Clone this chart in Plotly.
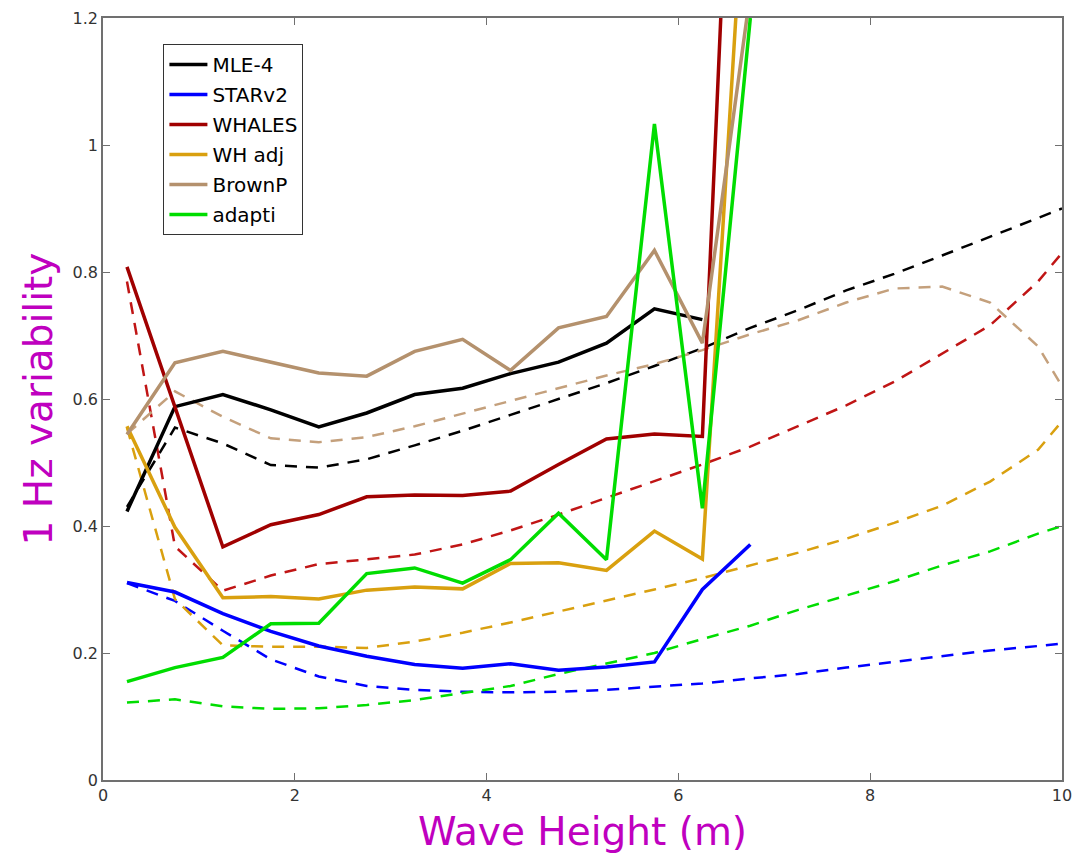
import plotly.graph_objects as go

# bin centres (m) for the solid curves
x_bins = [0.25, 0.75, 1.25, 1.75, 2.25, 2.75, 3.25, 3.75, 4.25, 4.75, 5.25, 5.75, 6.25, 6.75]

mle4 = [0.423, 0.588, 0.607, 0.583, 0.556, 0.578, 0.607, 0.617, 0.640, 0.658, 0.688, 0.742, 0.725]
starv2 = [0.311, 0.296, 0.262, 0.234, 0.211, 0.195, 0.182, 0.176, 0.183, 0.173, 0.178, 0.186, 0.300, 0.371]
whales = [0.808, 0.587, 0.367, 0.402, 0.418, 0.446, 0.449, 0.448, 0.455, 0.497, 0.537, 0.545, 0.541, 2.26]
wh_adj = [0.557, 0.398, 0.287, 0.289, 0.285, 0.299, 0.304, 0.301, 0.341, 0.342, 0.330, 0.392, 0.348, 1.57]
brownp = [0.544, 0.657, 0.675, 0.658, 0.641, 0.636, 0.675, 0.694, 0.645, 0.712, 0.730, 0.834, 0.688, 1.24]
adapti = [0.155, 0.177, 0.193, 0.246, 0.247, 0.325, 0.334, 0.310, 0.347, 0.420, 0.347, 1.033, 0.428, 1.20]

# grid for the dashed (model) curves
x_model = [0.25, 0.75, 1.25, 1.75, 2.25, 2.75, 3.25, 3.75, 4.25, 4.75, 5.25, 5.75, 6.25,
           6.75, 7.25, 7.75, 8.25, 8.75, 9.25, 9.75, 10.0]

mle4_m = [0.430, 0.555, 0.530, 0.496, 0.492, 0.505, 0.527, 0.550, 0.575, 0.600, 0.625, 0.652, 0.680,
          0.712, 0.740, 0.771, 0.797, 0.826, 0.855, 0.885, 0.900]
starv2_m = [0.310, 0.282, 0.235, 0.190, 0.163, 0.148, 0.142, 0.139, 0.138, 0.139, 0.142, 0.147, 0.152,
            0.160, 0.167, 0.177, 0.186, 0.194, 0.204, 0.211, 0.215]
whales_m = [0.785, 0.368, 0.298, 0.322, 0.340, 0.347, 0.355, 0.371, 0.393, 0.418, 0.444, 0.470, 0.497,
            0.525, 0.558, 0.590, 0.627, 0.672, 0.716, 0.785, 0.830]
wh_adj_m = [0.555, 0.285, 0.212, 0.210, 0.210, 0.208, 0.218, 0.232, 0.248, 0.265, 0.282, 0.300, 0.318,
            0.338, 0.358, 0.380, 0.405, 0.432, 0.470, 0.520, 0.565]
brownp_m = [0.545, 0.612, 0.572, 0.538, 0.532, 0.540, 0.557, 0.577, 0.598, 0.618, 0.637, 0.655, 0.677,
            0.702, 0.724, 0.752, 0.774, 0.777, 0.752, 0.683, 0.620]
adapti_m = [0.122, 0.127, 0.116, 0.112, 0.113, 0.118, 0.126, 0.137, 0.148, 0.167, 0.183, 0.200, 0.222,
            0.243, 0.268, 0.290, 0.313, 0.338, 0.360, 0.388, 0.400]

names = ["MLE-4", "STARv2", "WHALES", "WH adj", "BrownP", "adapti"]
colors = ["#000000", "#0000ff", "#a00000", "#d9a00f", "#b4916d", "#00dd00"]
dash_colors = ["#000000", "#0000ff", "#c01515", "#d9a00f", "#c4a07c", "#00dd00"]
solid = [mle4, starv2, whales, wh_adj, brownp, adapti]
model = [mle4_m, starv2_m, whales_m, wh_adj_m, brownp_m, adapti_m]

fig = go.Figure()
for name, col, dcol, ys, ym in zip(names, colors, dash_colors, solid, model):
    fig.add_trace(go.Scatter(x=x_model, y=ym, mode="lines", showlegend=False,
                             line=dict(color=dcol, width=2.5, dash="12px,9px"),
                             legendgroup=name))
for name, col, ys in zip(names, colors, solid):
    fig.add_trace(go.Scatter(x=x_bins[:len(ys)], y=ys, mode="lines", name=name,
                             line=dict(color=col, width=3.5), legendgroup=name))

axis_common = dict(showline=True, linecolor="#707070", linewidth=1.5, mirror="ticks",
                   ticks="inside", ticklen=7, tickcolor="#707070", tickwidth=1,
                   showgrid=False, zeroline=False,
                   tickfont=dict(family="DejaVu Sans", size=16, color="#333333"))

fig.update_layout(
    width=1076, height=861,
    margin=dict(l=103, r=14, t=18, b=81),
    plot_bgcolor="white", paper_bgcolor="white",
    font=dict(family="DejaVu Sans"),
    xaxis=dict(range=[0, 10], tickvals=[0, 2, 4, 6, 8, 10], automargin=False,
               title=dict(text="Wave Height (m)", standoff=14,
                          font=dict(family="DejaVu Sans", size=39, color="#bf00bf")),
               **axis_common),
    yaxis=dict(range=[0, 1.2], tickvals=[0, 0.2, 0.4, 0.6, 0.8, 1.0, 1.2], automargin=False,
               title=dict(text="1 Hz variability", standoff=8,
                          font=dict(family="DejaVu Sans", size=39, color="#bf00bf")),
               **axis_common),
    legend=dict(x=0.063, y=0.966, xanchor="left", yanchor="top",
                bgcolor="white", bordercolor="#333333", borderwidth=1,
                font=dict(family="DejaVu Sans", size=20, color="#000000"),
                traceorder="grouped", tracegroupgap=1, itemwidth=38),
)

fig.write_html("out.html")
